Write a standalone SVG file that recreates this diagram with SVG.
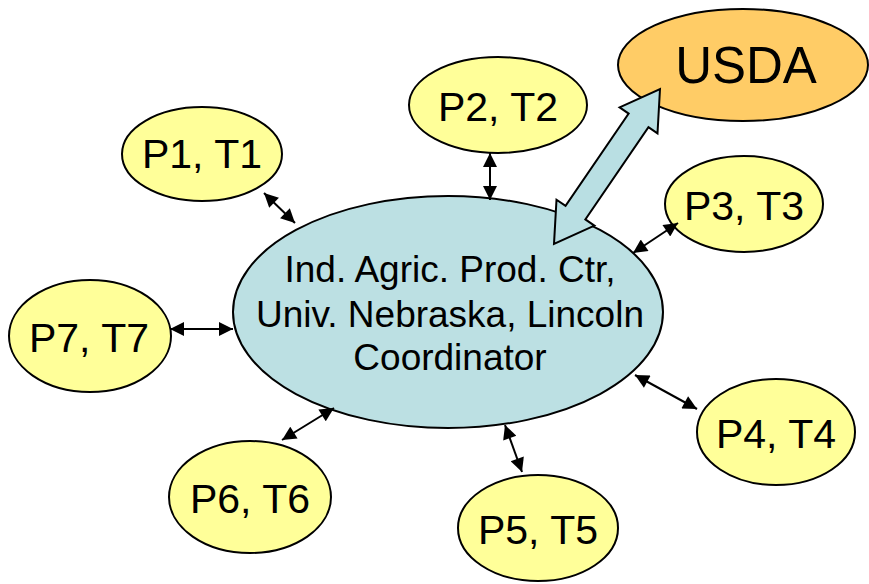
<svg xmlns="http://www.w3.org/2000/svg" width="869" height="584" viewBox="0 0 869 584">
<defs>
<style>
.p{fill:#FFFF99;stroke:#000;stroke-width:2}
.c{fill:#BCE0E3;stroke:#000;stroke-width:2}
.u{fill:#FFCC66;stroke:#000;stroke-width:2}
text{font-family:"Liberation Sans",Arial,sans-serif;fill:#000;text-anchor:middle}
.pt{font-size:41px}
.ct{font-size:37px}
.ut{font-size:51px}
.a{stroke:#000;stroke-width:2;fill:none;marker-start:url(#h);marker-end:url(#h)}
.big{fill:#B9DFE3;stroke:#000;stroke-width:2;stroke-linejoin:miter}
</style>
<marker id="h" viewBox="0 0 10 10" refX="10" refY="5" markerWidth="8" markerHeight="7" markerUnits="strokeWidth" orient="auto-start-reverse">
<path d="M0,0 L10,5 L0,10 Z" fill="#000"/>
</marker>
</defs>
<g id="center"><ellipse class="c" cx="448" cy="312" rx="215" ry="116"/>
<text class="ct" x="450" y="282">Ind. Agric. Prod. Ctr,</text>
<text class="ct" x="450" y="327">Univ. Nebraska, Lincoln</text>
<text class="ct" x="450" y="370">Coordinator</text></g>
<g id="usda"><ellipse class="u" cx="743" cy="65" rx="125" ry="56"/><text class="ut" x="746" y="83">USDA</text></g>
<g id="p1"><ellipse class="p" cx="202" cy="154" rx="80" ry="47"/><text class="pt" x="202" y="168">P1, T1</text></g>
<g id="p2"><ellipse class="p" cx="498" cy="105" rx="89" ry="48"/><text class="pt" x="498" y="121">P2, T2</text></g>
<g id="p3"><ellipse class="p" cx="744" cy="204" rx="79" ry="48"/><text class="pt" x="744" y="220">P3, T3</text></g>
<g id="p4"><ellipse class="p" cx="776" cy="432" rx="79" ry="53"/><text class="pt" x="776" y="448">P4, T4</text></g>
<g id="p5"><ellipse class="p" cx="538" cy="528" rx="80" ry="53"/><text class="pt" x="538" y="544">P5, T5</text></g>
<g id="p6"><ellipse class="p" cx="250" cy="497" rx="81" ry="56"/><text class="pt" x="250" y="513">P6, T6</text></g>
<g id="p7"><ellipse class="p" cx="90" cy="336" rx="81" ry="56"/><text class="pt" x="89" y="352">P7, T7</text></g>
<g id="connectors">
<line class="a" x1="264" y1="193" x2="295" y2="223"/>
<line class="a" x1="490" y1="153" x2="490" y2="200"/>
<line class="a" x1="678" y1="223" x2="633" y2="253"/>
<line class="a" x1="635" y1="375" x2="697" y2="409"/>
<line class="a" x1="505" y1="425" x2="522" y2="472"/>
<line class="a" x1="334" y1="408" x2="282" y2="440"/>
<line class="a" x1="170" y1="329" x2="233" y2="329"/>
<polygon class="big" points="660,89 657.5,133.4 648.45,127.14 585.35,219.4 594.4,225.6 554,244 556.5,199.7 565.55,205.86 628.65,113.6 619.6,107.4"/>
</g>
</svg>
